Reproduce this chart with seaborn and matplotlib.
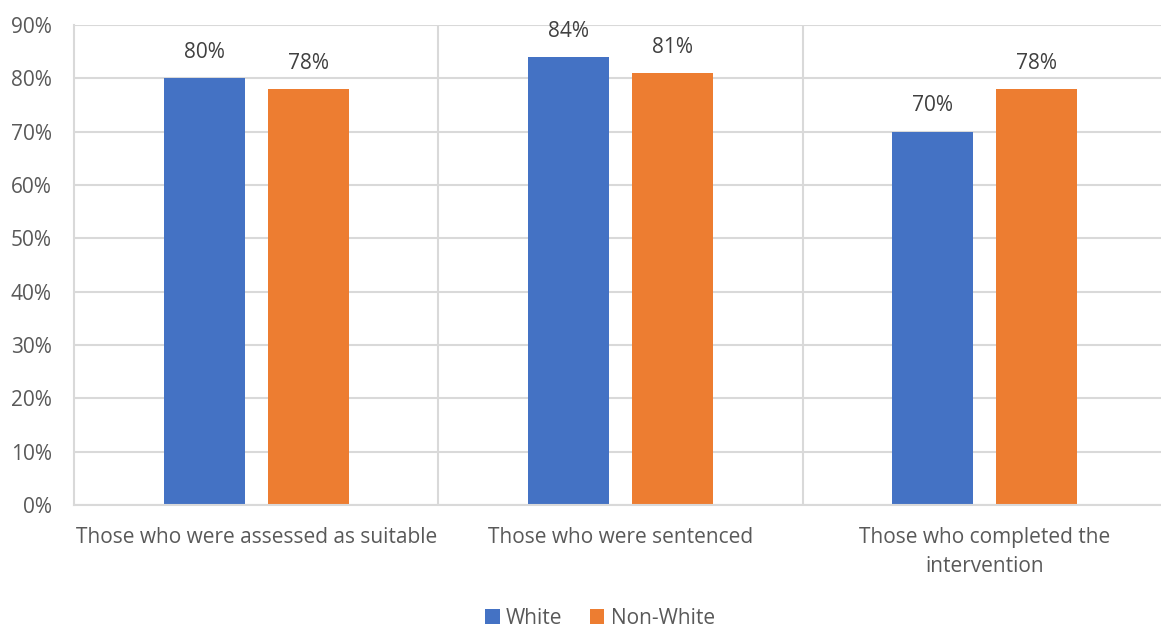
import matplotlib
matplotlib.use("Agg")
import matplotlib.pyplot as plt
import pandas as pd
import seaborn as sns

categories = [
    "Those who were assessed as suitable",
    "Those who were sentenced",
    "Those who completed the\nintervention",
]
groups = ["White", "Non-White"]
white_pct = [80, 84, 70]
non_white_pct = [78, 81, 78]
y_ticks = [0, 10, 20, 30, 40, 50, 60, 70, 80, 90]

colors = {"White": "#4472C4", "Non-White": "#ED7D31"}
grid_col = "#D9D9D9"
text_col = "#595959"

df = pd.DataFrame({
    "category": categories * 2,
    "group": ["White"] * 3 + ["Non-White"] * 3,
    "value": white_pct + non_white_pct,
})

sns.set_theme(style="white")
plt.rcParams["font.family"] = ["Open Sans", "DejaVu Sans"]

W, H = 1161, 628
fig = plt.figure(figsize=(W / 100, H / 100), dpi=100)
left, right, top, bottom = 74, 1167, 25, 505
ax = fig.add_axes([left / W, 1 - bottom / H, (right - left) / W, (bottom - top) / H])

sns.barplot(data=df, x="category", y="value", hue="group", order=categories,
            hue_order=groups, palette=colors, width=0.571, gap=0.22,
            saturation=1, ax=ax, legend=True, linewidth=0)

ax.set_ylim(0, 90)
ax.set_xlim(-0.5, 2.5)
ax.set_yticks(y_ticks)
ax.set_yticklabels([f"{t}%" for t in y_ticks])
ax.set_xlabel("")
ax.set_ylabel("")

ax.set_axisbelow(True)
ax.yaxis.grid(True, color=grid_col, linewidth=1.5)
for x in [0.5, 1.5]:
    ax.axvline(x, color=grid_col, linewidth=1.5, zorder=0)
for s in ["top", "right"]:
    ax.spines[s].set_visible(False)
for s in ["left", "bottom"]:
    ax.spines[s].set_color(grid_col)
    ax.spines[s].set_linewidth(1.5)

ax.tick_params(axis="both", length=0, labelsize=15, colors=text_col)
ax.tick_params(axis="y", pad=16)
ax.tick_params(axis="x", pad=16)
for lbl in ax.get_xticklabels():
    lbl.set_linespacing(1.5)

for cont in ax.containers:
    ax.bar_label(cont, labels=[f"{v:.0f}%" for v in cont.datavalues],
                 padding=11, fontsize=15, color="#404040")

handles, labels = ax.get_legend_handles_labels()
ax.legend(handles, labels, loc="center", bbox_to_anchor=((600 - left) / (right - left), -0.236),
          bbox_transform=ax.transAxes, ncol=2, frameon=False, fontsize=15,
          handlelength=0.7, handleheight=0.7, handletextpad=0.3,
          columnspacing=1.3, labelcolor=text_col)

fig.savefig("out.png", dpi=100)
